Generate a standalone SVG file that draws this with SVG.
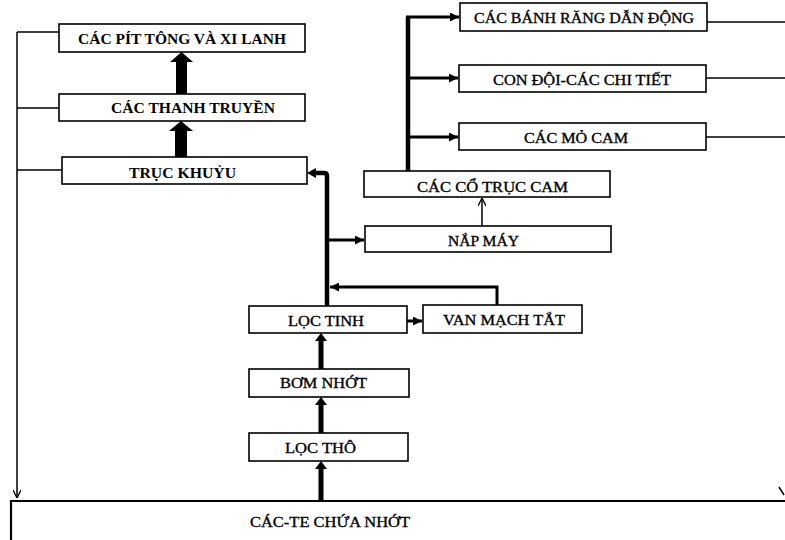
<svg xmlns="http://www.w3.org/2000/svg" width="785" height="540" viewBox="0 0 785 540">
<style>
.box{fill:#fff;stroke:#000;stroke-width:1.6}
.t{font-family:"Liberation Serif","Times New Roman",serif;font-size:15.5px;font-weight:normal;fill:#000;stroke:#000;stroke-width:0.35}
.tb{font-family:"Liberation Serif","Times New Roman",serif;font-size:14px;font-weight:bold;fill:#000}
.thin{fill:none;stroke:#000;stroke-width:1.5}
.med{fill:none;stroke:#000;stroke-width:3}
.thick{fill:none;stroke:#000;stroke-width:4.5}
.blk{fill:#000;stroke:none}
</style>
<defs>
<marker id="ah" markerUnits="userSpaceOnUse" viewBox="0 0 10 10" markerWidth="9" markerHeight="9" refX="10" refY="5" orient="auto">
<path d="M0,0 L10,5 L0,10 Z" fill="#000"/>
</marker>
<marker id="op" markerUnits="userSpaceOnUse" viewBox="0 0 10 10" markerWidth="8" markerHeight="8" refX="10" refY="5" orient="auto">
<path d="M0,0 L10,5 L0,10" fill="none" stroke="#000" stroke-width="1.6"/>
</marker>
</defs>
<rect width="785" height="540" fill="#fff"/>

<g id="connectors">
<path class="thin" d="M17,32 L17,498" marker-end="url(#op)"/>
<path class="thin" d="M17,32 L59,32 M17,108 L59,108 M17,170 L62,170"/>
<path class="thin" d="M707,22 L785,22 M706,78 L785,78 M706,137 L785,137"/>
<path class="thin" d="M779,487 L784,495"/>
<path class="blk" d="M176,94 L176,62 L170,62 L181.5,52 L193,62 L187,62 L187,94 Z"/>
<path class="blk" d="M175,157 L175,131 L169,131 L181,121 L193,131 L187,131 L187,157 Z"/>
<path class="blk" d="M318.5,369 L318.5,341 L315,341 L321,333 L327,341 L323.5,341 L323.5,369 Z"/>
<path class="blk" d="M318.5,433 L318.5,405 L315,405 L321,397 L327,405 L323.5,405 L323.5,433 Z"/>
<path class="blk" d="M318.5,501 L318.5,469 L315,469 L321,461 L327,469 L323.5,469 L323.5,501 Z"/>
<path class="thick" d="M327,306 L327,176 Q327,173 324,173 L316,173"/>
<path class="blk" d="M307,173 L316,168 L316,178 Z"/>
<path class="med" d="M327,240 L364,240" marker-end="url(#ah)"/>
<path class="med" d="M407,321 L422,321" marker-end="url(#ah)"/>
<path class="med" d="M497,305 L497,287 L330,287" marker-end="url(#ah)"/>
<path class="thin" d="M482,226 L482,198" marker-end="url(#op)"/>
<path class="thick" d="M408,171 L408,17"/>
<path class="med" d="M406,17 L459,17" marker-end="url(#ah)"/>
<path class="med" d="M408,78 L458,78" marker-end="url(#ah)"/>
<path class="med" d="M408,137 L458,137" marker-end="url(#ah)"/>
</g>

<g id="n-pittong">
<rect class="box" x="59" y="24" width="246" height="28"/>
<text class="tb" x="78" y="44" textLength="208" lengthAdjust="spacingAndGlyphs">CÁC PÍT TÔNG VÀ XI LANH</text>
</g>
<g id="n-thanhtruyen">
<rect class="box" x="59" y="94" width="246" height="27"/>
<text class="tb" x="111" y="113" textLength="164" lengthAdjust="spacingAndGlyphs">CÁC THANH TRUYỀN</text>
</g>
<g id="n-trackhuyu">
<rect class="box" x="62" y="157" width="245" height="27"/>
<text class="tb" x="129" y="178" textLength="107" lengthAdjust="spacingAndGlyphs">TRỤC KHUỶU</text>
</g>
<g id="n-banhrang">
<rect class="box" x="460" y="3" width="247" height="28"/>
<text class="t" x="474" y="23" textLength="220" lengthAdjust="spacingAndGlyphs">CÁC BÁNH RĂNG DẪN ĐỘNG</text>
</g>
<g id="n-condoi">
<rect class="box" x="459" y="65" width="247" height="27"/>
<text class="t" x="493" y="85" textLength="178" lengthAdjust="spacingAndGlyphs">CON ĐỘI-CÁC CHI TIẾT</text>
</g>
<g id="n-mocam">
<rect class="box" x="459" y="123" width="247" height="27"/>
<text class="t" x="524" y="143" textLength="104" lengthAdjust="spacingAndGlyphs">CÁC MỎ CAM</text>
</g>
<g id="n-cotruccam">
<rect class="box" x="364" y="171" width="246" height="26"/>
<text class="t" x="417" y="192" textLength="151" lengthAdjust="spacingAndGlyphs">CÁC CỔ TRỤC CAM</text>
</g>
<g id="n-napmay">
<rect class="box" x="365" y="226" width="246" height="26"/>
<text class="t" x="448" y="246" textLength="71" lengthAdjust="spacingAndGlyphs">NẮP MÁY</text>
</g>
<g id="n-loctinh">
<rect class="box" x="249" y="306" width="158" height="27"/>
<text class="t" x="288" y="326" textLength="76" lengthAdjust="spacingAndGlyphs">LỌC TINH</text>
</g>
<g id="n-vanmach">
<rect class="box" x="423" y="305" width="159" height="28"/>
<text class="t" x="443" y="325" textLength="122" lengthAdjust="spacingAndGlyphs">VAN MẠCH TẮT</text>
</g>
<g id="n-bomnhot">
<rect class="box" x="249" y="369" width="160" height="28"/>
<text class="t" x="280" y="388" textLength="87" lengthAdjust="spacingAndGlyphs">BƠM NHỚT</text>
</g>
<g id="n-loctho">
<rect class="box" x="249" y="433" width="159" height="28"/>
<text class="t" x="285" y="453" textLength="71" lengthAdjust="spacingAndGlyphs">LỌC THÔ</text>
</g>
<g id="n-carte">
<path d="M11,541 L11,501 L786,501" fill="none" stroke="#000" stroke-width="2.2"/>
<text class="t" x="250" y="527" textLength="160" lengthAdjust="spacingAndGlyphs">CÁC-TE CHỨA NHỚT</text>
</g>
</svg>
